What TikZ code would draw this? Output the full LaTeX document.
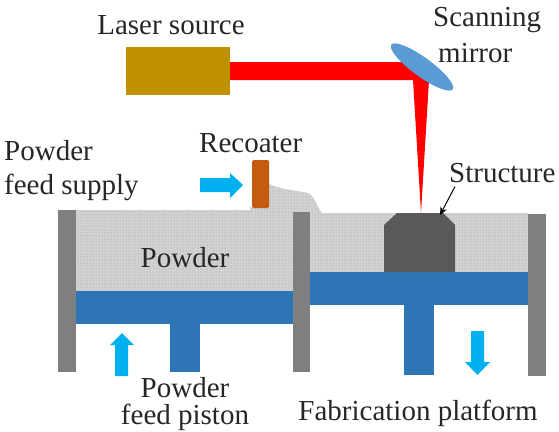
\documentclass[tikz,border=0pt]{standalone}
\usepackage{fontspec}
\setmainfont{Liberation Serif}
\usetikzlibrary{patterns,arrows.meta,shapes.geometric,calc}
\definecolor{wallgray}{HTML}{7F7F7F}
\definecolor{pistonblue}{HTML}{2E75B6}
\definecolor{mirrorblue}{HTML}{5B9BD5}
\definecolor{arrowblue}{HTML}{00B0F0}
\definecolor{lasergold}{HTML}{BF9000}
\definecolor{bladeorange}{HTML}{C55A11}
\definecolor{solidgray}{HTML}{595959}
\definecolor{powderbase}{HTML}{D2D2D2}
\definecolor{powderdot}{HTML}{999999}
\tikzset{
  x=1pt,y=-1pt,
  wall/.style={fill=wallgray,draw=none},
  piston/.style={fill=pistonblue,draw=none},
  powderbed/.style={fill=powderbase,draw=none,postaction={pattern=dots,pattern color=powderdot}},
  flow/.style={fill=arrowblue,draw=none},
  lbl/.style={font=\fontsize{29}{32}\selectfont,text=black!85,inner sep=0pt,anchor=base},
  lblw/.style={lbl,anchor=base west},
}
\begin{document}
\begin{tikzpicture}
\useasboundingbox (0,0) rectangle (559,431);

% powder beds and the heap pushed by the recoater
\fill[powderbed] (76,210) rectangle (293,291);
\fill[powderbed] (310,213) rectangle (528,272);
\fill[powderbed] (269,184) .. controls (280,189) and (295,191) .. (305,192)
  .. controls (315,194) and (316,206) .. (322,213) -- (269,213) -- cycle;
\fill[powderbed] (250,207) rectangle (310,213);

% pistons
\fill[piston] (76,291) rectangle (293,324);
\fill[piston] (170,324) rectangle (200,372);
\fill[piston] (310,272) rectangle (528,305);
\fill[piston] (404,305) rectangle (434,375);

% chamber walls
\fill[wall] (58,210) rectangle (76,372);
\fill[wall] (293,212) rectangle (310,372);
\fill[wall] (528,214) rectangle (546,376);

% part being built
\fill[solidgray] (384,272) -- (384,225) -- (397,213) -- (443,213) -- (455,225) -- (455,272) -- cycle;

% laser source, beam and mirror
\node[fill=lasergold,minimum width=104pt,minimum height=48pt,inner sep=0pt,anchor=north west] (source) at (126,47) {};
\fill[red] (230,62) -- (418,62) -- (429,80) -- (421,213) -- (413,80) -- (230,80) -- cycle;
\node[ellipse,fill=mirrorblue,minimum width=76pt,minimum height=19pt,inner sep=0pt,rotate=-36] (mirrorshape) at (422,67) {};

% recoater blade
\fill[bladeorange,rounded corners=1.5pt] (252,160) rectangle (269,208);

% motion arrows
\fill[flow] (200,178) -- (230,178) -- (230,173) -- (243,185) -- (230,198) -- (230,192) -- (200,192) -- cycle;
\fill[flow] (115,376) -- (115,345) -- (110,345) -- (122,333) -- (134,345) -- (128,345) -- (128,376) -- cycle;
\fill[flow] (471,331) -- (484,331) -- (484,362) -- (490,362) -- (477.5,375) -- (465,362) -- (471,362) -- cycle;

% labels
\node[lbl] (lasertxt) at (171,34) {Laser source};
\node[lblw] (scantxt) at (433,27) {Scanning};
\node[lblw] (mirrortxt) at (438,62) {mirror};
\node[lblw] (recoatertxt) at (199,152) {Recoater};
\node[lblw] (supplytxt) at (4,160) {Powder};
\node[lblw] (supplytxtb) at (4,194) {feed supply};
\node[lblw] (structuretxt) at (449,182) {Structure};
\node[lbl] (powdertxt) at (185,267) {Powder};
\node[lbl] (pistontxt) at (185,397) {Powder};
\node[lbl] (pistontxtb) at (185,424) {feed piston};
\node[lbl] (platformtxt) at (418,420) {Fabrication platform};

% leader to the part
\coordinate (leaderstart) at ($(structuretxt.south west)+(6,4)$);
\coordinate (parttop) at (440,215);
\draw[line width=1pt,-{Stealth[length=8pt,width=7pt]}] (leaderstart) -- (parttop);
\end{tikzpicture}
\end{document}
